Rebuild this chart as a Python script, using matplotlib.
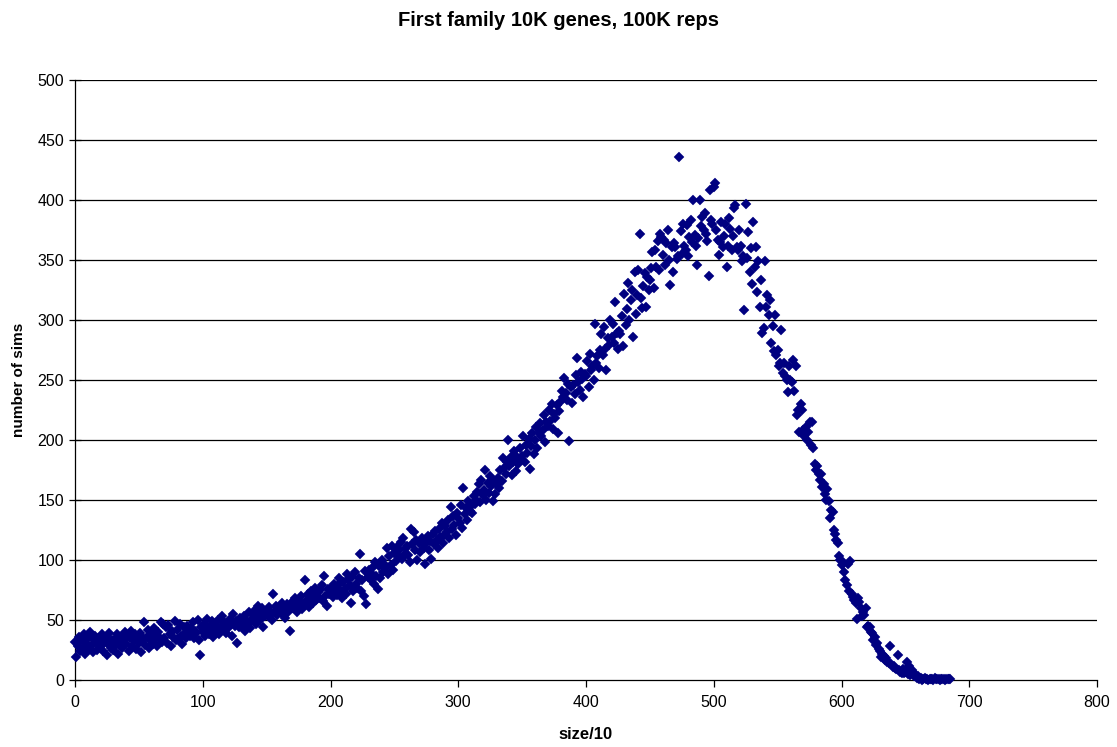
import matplotlib
matplotlib.use("Agg")
import matplotlib.pyplot as plt
import numpy as np

plt.rcParams['font.family'] = ['Liberation Sans', 'DejaVu Sans']

title = "First family 10K genes, 100K reps"
xlabel = "size/10"
ylabel = "number of sims"

# number of sims for size/10 = 0, 1, 2, ... (one value per size)
sims_000_099 = [
    32, 19, 28, 36, 24, 33, 27, 38, 22, 31,
    35, 26, 40, 29, 23, 33, 37, 25, 30, 34,
    28, 38, 24, 32, 36, 21, 30, 39, 27, 33,
    25, 34, 29, 38, 22, 31, 36, 27, 33, 40,
    30, 37, 24, 35, 41, 28, 33, 38, 26, 36,
    31, 39, 23, 35, 48, 29, 36, 42, 27, 33,
    38, 30, 43, 34, 28, 40, 36, 48, 32, 47,
    35, 44, 31, 46, 38, 28, 41, 36, 49, 33,
    42, 34, 47, 37, 30, 44, 39, 35, 45, 40,
    37, 43, 48, 35, 41, 39, 50, 33, 21, 44,
]
sims_100_199 = [
    40, 47, 37, 51, 43, 38, 45, 49, 36, 42,
    46, 40, 50, 38, 44, 53, 42, 48, 39, 45,
    43, 51, 47, 37, 55, 45, 49, 31, 44, 52,
    48, 44, 53, 41, 50, 46, 57, 43, 50, 55,
    52, 58, 47, 62, 55, 50, 60, 44, 56, 53,
    58, 53, 61, 56, 50, 72, 57, 62, 54, 59,
    61, 56, 64, 58, 52, 60, 63, 57, 41, 62,
    65, 60, 68, 62, 57, 66, 64, 70, 59, 63,
    83, 66, 72, 61, 70, 74, 64, 69, 77, 67,
    73, 68, 75, 79, 66, 87, 70, 62, 76, 72,
]
sims_200_299 = [
    77, 73, 69, 80, 75, 71, 79, 85, 74, 68,
    82, 76, 72, 88, 84, 79, 64, 86, 74, 90,
    80, 77, 85, 105, 74, 83, 70, 91, 63, 86,
    92, 84, 89, 94, 80, 98, 87, 76, 95, 85,
    100, 90, 97, 93, 110, 88, 103, 96, 112, 92,
    106, 99, 111, 103, 108, 115, 101, 118, 105, 110,
    112, 104, 98, 126, 113, 123, 108, 117, 100, 114,
    107, 115, 118, 110, 97, 114, 120, 108, 116, 101,
    122, 113, 124, 117, 110, 126, 119, 131, 114, 121,
    128, 123, 133, 118, 144, 126, 137, 129, 121, 139,
]
sims_300_399 = [
    135, 131, 146, 127, 160, 138, 143, 133, 149, 141,
    145, 139, 153, 147, 150, 157, 163, 148, 167, 154,
    158, 175, 150, 164, 156, 170, 162, 149, 166, 155,
    163, 168, 160, 175, 166, 185, 177, 172, 182, 200,
    178, 186, 171, 182, 191, 174, 186, 180, 193, 184,
    187, 203, 182, 196, 189, 201, 176, 195, 206, 188,
    200, 211, 193, 206, 214, 203, 208, 221, 198, 215,
    212, 225, 216, 230, 209, 222, 218, 229, 206, 224,
    232, 241, 236, 252, 239, 233, 247, 199, 244, 231,
    246, 238, 254, 268, 248, 242, 257, 251, 236, 255,
]
sims_400_499 = [
    253, 266, 244, 272, 258, 262, 250, 297, 264, 270,
    260, 275, 288, 271, 294, 276, 258, 285, 279, 300,
    286, 297, 281, 315, 289, 276, 291, 288, 303, 278,
    322, 296, 309, 331, 300, 317, 325, 286, 340, 305,
    321, 342, 372, 318, 310, 328, 339, 311, 336, 325,
    333, 343, 357, 327, 358, 344, 366, 342, 372, 369,
    354, 367, 346, 364, 375, 350, 329, 361, 340, 364,
    361, 351, 353, 436, 374, 355, 380, 362, 358, 379,
    353, 369, 383, 365, 400, 371, 362, 346, 368, 400,
    378, 386, 375, 389, 372, 366, 337, 408, 383, 380,
]
sims_500_599 = [
    411, 414, 375, 367, 354, 365, 382, 361, 370, 380,
    344, 362, 385, 376, 358, 370, 393, 396, 361, 358,
    375, 362, 349, 353, 308, 397, 352, 373, 340, 360,
    330, 382, 344, 361, 323, 349, 311, 333, 289, 293,
    349, 311, 321, 304, 317, 281, 295, 274, 304, 271,
    275, 262, 264, 292, 256, 264, 253, 250, 240, 262,
    250, 248, 267, 241, 262, 221, 225, 207, 230, 225,
    208, 203, 211, 200, 207, 215, 196, 215, 193, 180,
    175, 178, 172, 167, 172, 161, 163, 155, 150, 159,
    149, 135, 142, 140, 125, 122, 117, 114, 103, 100,
]
sims_600_685 = [
    96, 98, 90, 83, 79, 97, 74, 99, 72, 69,
    67, 64, 51, 68, 65, 60, 53, 57, 54, 60,
    44, 45, 44, 40, 39, 33, 36, 29, 31, 26,
    24, 19, 22, 20, 17, 18, 15, 14, 28, 13,
    11, 12, 10, 9, 21, 8, 7, 6, 9, 6,
    7, 15, 5, 12, 4, 8, 5, 3, 4, 2,
    3, 1, 2, 0, 1, 2, 1, 1, 0, 1,
    1, 1, 0, 2, 1, 1, 1, 0, 1, 1,
    1, 0, 1, 1, 1, 1,
]

sims = (sims_000_099 + sims_100_199 + sims_200_299 + sims_300_399
        + sims_400_499 + sims_500_599 + sims_600_685)
sizes = list(range(len(sims)))

x_ticks = [0, 100, 200, 300, 400, 500, 600, 700, 800]
y_ticks = [0, 50, 100, 150, 200, 250, 300, 350, 400, 450, 500]

W, H = 1117, 747
fig = plt.figure(figsize=(W / 100, H / 100), dpi=100)
ax = fig.add_axes([75 / W, 1 - 680 / H, (1097 - 75) / W, (680 - 80) / H])

for yv in y_ticks[1:]:
    ax.axhline(yv, color='black', lw=0.9, zorder=1)

ax.plot(sizes, sims, linestyle='none', marker='D', ms=4.6,
        color='#000080', mec='#000080', mew=0.3, zorder=3, clip_on=False)

ax.set_xlim(0, 800)
ax.set_ylim(0, 500)
ax.set_xticks(x_ticks)
ax.set_yticks(y_ticks)
ax.tick_params(axis='x', direction='out', length=5, width=0.9, labelsize=11.5, pad=6)
ax.tick_params(axis='y', direction='inout', length=8, width=0.9, labelsize=11.5, pad=4)

for s in ['top', 'right']:
    ax.spines[s].set_visible(False)
for s in ['left', 'bottom']:
    ax.spines[s].set_linewidth(0.9)

ax.set_xlabel(xlabel, fontsize=12, fontweight='bold', labelpad=12)
ax.set_ylabel(ylabel, fontsize=11, fontweight='bold', labelpad=8)
fig.text(558 / W, 1 - 20 / H, title, ha='center', va='center',
         fontsize=14.5, fontweight='bold')

fig.savefig('out.png', dpi=100)
